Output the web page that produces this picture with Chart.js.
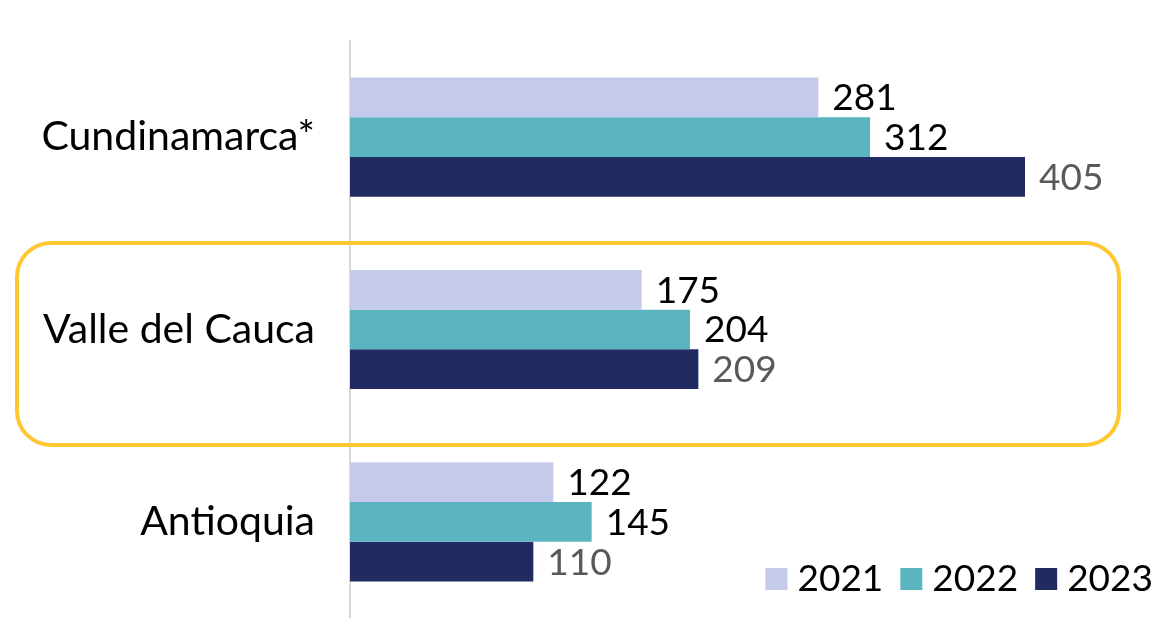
<!DOCTYPE html>
<html>
<head>
<meta charset="utf-8">
<script src="https://cdn.jsdelivr.net/npm/chart.js@4/dist/chart.umd.min.js"></script>
<style>
  html, body { margin: 0; padding: 0; background: #fff; }
  #wrap { width: 1160px; height: 618px; }
</style>
</head>
<body>
<div id="wrap"><canvas id="myChart"></canvas></div>
<script>
// data
var regions = ['Cundinamarca*', 'Valle del Cauca', 'Antioquia'];
var years = ['2021', '2022', '2023'];
var values2021 = [281, 175, 122];
var values2022 = [312, 204, 145];
var values2023 = [405, 209, 110];

var colors = ['#C5CAEB', '#5BB5C0', '#222A62'];
var labelColors = ['#000000', '#000000', '#595959'];
var FONT = 'Lato, "Noto Sans", sans-serif';

// numbers at the end of each bar
var valueLabels = {
    id: 'valueLabels',
    afterDatasetsDraw: function (chart) {
        var ctx = chart.ctx;
        ctx.save();
        ctx.font = '37px ' + FONT;
        ctx.textBaseline = 'middle';
        ctx.textAlign = 'left';
        chart.data.datasets.forEach(function (ds, i) {
            var meta = chart.getDatasetMeta(i);
            meta.data.forEach(function (bar, j) {
                ctx.fillStyle = labelColors[i];
                ctx.fillText(ds.data[j], bar.x + 14, bar.y + 1);
            });
        });
        ctx.restore();
    }
};

// yellow rounded box round the highlighted region
var highlight = {
    id: 'highlight',
    afterDraw: function (chart) {
        var y = chart.scales.y;
        var c = y.getPixelForValue(1);
        var step = c - y.getPixelForValue(0);
        var top = c - step * 0.45;
        var bottom = c + step * 0.6;
        var ctx = chart.ctx;
        ctx.save();
        ctx.strokeStyle = '#FFC832';
        ctx.lineWidth = 4;
        ctx.beginPath();
        ctx.roundRect(17, top, 1102, bottom - top, 34);
        ctx.stroke();
        ctx.restore();
    }
};

// legend in the bottom right corner
var cornerLegend = {
    id: 'cornerLegend',
    afterDraw: function (chart) {
        var ctx = chart.ctx;
        ctx.save();
        ctx.font = '37px ' + FONT;
        ctx.textBaseline = 'middle';
        ctx.textAlign = 'left';
        var x = 1153;
        var yc = 579;
        var items = chart.data.datasets.slice().reverse();
        items.forEach(function (ds) {
            var w = ctx.measureText(ds.label).width;
            x -= w;
            ctx.fillStyle = '#000';
            ctx.fillText(ds.label, x, yc);
            x -= 10 + 22;
            ctx.fillStyle = ds.backgroundColor;
            ctx.fillRect(x, yc - 11, 22, 22);
            x -= 17;
        });
        ctx.restore();
    }
};

function drawChart() {
    var ctx = document.getElementById('myChart').getContext('2d');
    var chart = new Chart(ctx, {
        type: 'bar',
        data: {
            labels: regions,
            datasets: [{
                label: years[0],
                backgroundColor: colors[0],
                data: values2021
            }, {
                label: years[1],
                backgroundColor: colors[1],
                data: values2022
            }, {
                label: years[2],
                backgroundColor: colors[2],
                data: values2023
            }]
        },
        options: {
            indexAxis: 'y',
            responsive: true,
            maintainAspectRatio: false,
            animation: false,
            events: [],
            barPercentage: 1,
            categoryPercentage: 0.62,
            layout: { padding: { top: 41, right: 10, bottom: 0, left: 0 } },
            plugins: {
                legend: { display: false },
                tooltip: { enabled: false }
            },
            scales: {
                x: {
                    display: false,
                    min: 0,
                    max: 480
                },
                y: {
                    afterFit: function (scale) {
                        scale.width = 350;
                        scale.paddingTop = 0;
                        scale.paddingBottom = 0;
                    },
                    grid: { display: false, drawTicks: false },
                    border: { display: true, color: '#D9D9D9', width: 2 },
                    ticks: {
                        color: '#000',
                        padding: 35,
                        font: { family: FONT, size: 41 }
                    }
                }
            }
        },
        plugins: [valueLabels, highlight, cornerLegend]
    });
    window.chart = chart;
}

drawChart();
</script>
</body>
</html>
